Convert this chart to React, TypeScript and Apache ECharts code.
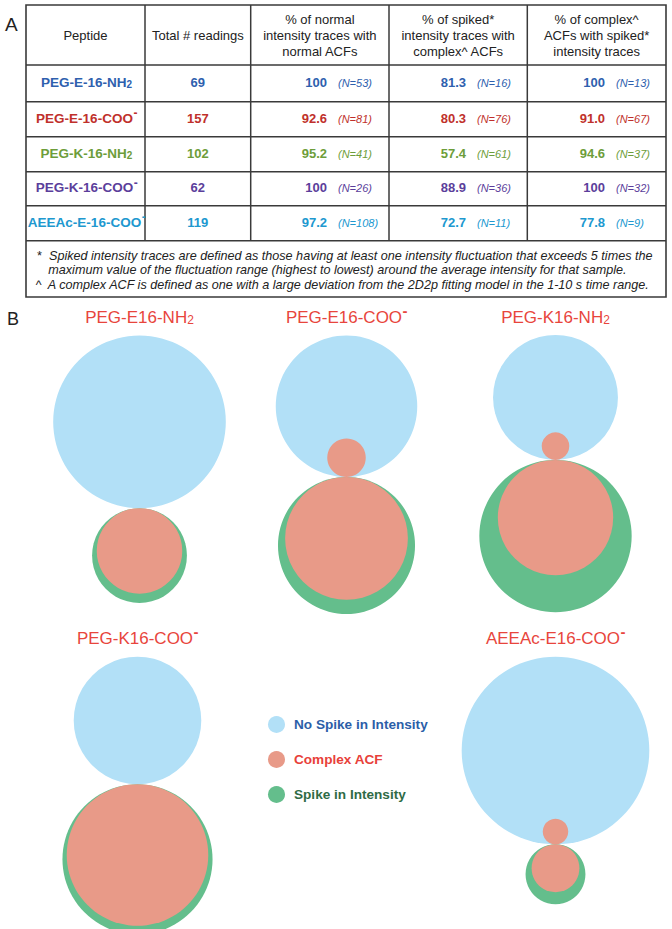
import React, { useEffect, useRef } from "react";
import * as echarts from "echarts";

// ---------- data ----------
const peptides = ["PEG-E-16-NH2", "PEG-E-16-COO-", "PEG-K-16-NH2", "PEG-K-16-COO-", "AEEAc-E-16-COO-"];
const vennTitles = ["PEG-E16-NH2", "PEG-E16-COO-", "PEG-K16-NH2", "PEG-K16-COO-", "AEEAc-E16-COO-"];
const totalReadings = [69, 157, 102, 62, 119];
const normalPct = [100, 92.6, 95.2, 100, 97.2];
const normalN = [53, 81, 41, 26, 108];
const spikedPct = [81.3, 80.3, 57.4, 88.9, 72.7];
const spikedN = [16, 76, 61, 36, 11];
const complexPct = [100, 91.0, 94.6, 100, 77.8];
const complexN = [13, 67, 37, 32, 9];
const headers = [
  "Peptide",
  "Total # readings",
  "% of normal\nintensity traces with\nnormal ACFs",
  "% of spiked*\nintensity traces with\ncomplex^ ACFs",
  "% of complex^\nACFs with spiked*\nintensity traces",
];
const footMarks = ["*", "", "^"];
const footnotes = [
  "Spiked intensity traces are defined as those having at least one intensity fluctuation that exceeds 5 times the",
  "maximum value of the fluctuation range (highest to lowest) around the average intensity for that sample.",
  "A complex ACF is defined as one with a large deviation from the 2D2p fitting model in the 1-10 s time range.",
];
const legendNames = ["No Spike in Intensity", "Complex ACF", "Spike in Intensity"];

// ---------- styling / layout ----------
const FONT = '"Liberation Sans", Arial, Helvetica, sans-serif';
const rowColors = ["#2E60AE", "#C0302B", "#6D9D3A", "#5B3E9B", "#2098CF"];
const BLUE = "#B2E0F7";
const PINK = "#E89A88";
const GREEN = "#64BE8C";
const TITLE_RED = "#E8453C";
const LEGEND_TEXT = ["#2B5EA8", "#E8413A", "#2F6B45"];
const LINE = "#3a3a3a";

const colX = [26, 145, 250.7, 389, 527.3, 666];
const rowY = [5, 65, 101.7, 136.7, 171.7, 205.7, 240.7];
const tableBottom = 297;
const valRight = [327, 466, 605];
const nLeft = [338, 477, 616];
const markX = [36.5, 0, 35.5];
const footX = [49, 48.3, 47.8];
const footY = [255.5, 270, 284.5];

const vennX = [139.5, 346.5, 555.5, 137.5, 555.5];
const vennTop = [335.5, 335.5, 335, 656.7, 656.7];
const titleY = [317, 317, 317, 638, 638];
const AREA = 9700; // pixel area budget per diagram

let _ctx: CanvasRenderingContext2D | null = null;
function measure(text: string, font: string) {
  if (!_ctx) _ctx = document.createElement("canvas").getContext("2d");
  if (!_ctx) return text.length * 7;
  _ctx.font = font;
  return _ctx.measureText(text).width;
}

const fmtPct = (v: number) => (v === 100 ? "100" : v.toFixed(1));

function txt(x: number, y: number, text: string, extra: any, align = "left") {
  return {
    type: "text",
    silent: true,
    style: {
      x, y, text, fontFamily: FONT,
      align, textAlign: align, verticalAlign: "middle", textVerticalAlign: "middle",
      ...extra,
    },
  };
}

// name with chemical subscript ("NH2") or superscript charge ("COO-")
function nameEls(name: string, cx: number, y: number, fs: number, subFs: number, supFs: number, weight: string, color: string) {
  const els: any[] = [];
  let main = name;
  let kind = "";
  if (name.endsWith("NH2")) { main = name.slice(0, -1); kind = "sub"; }
  else if (name.endsWith("-")) { main = name.slice(0, -1); kind = "sup"; }
  const wMain = measure(main, `${weight} ${fs}px ${FONT}`);
  const wSuf = kind === "sub" ? measure("2", `${weight} ${subFs}px ${FONT}`) : kind === "sup" ? measure("-", `bold ${supFs}px ${FONT}`) : 0;
  const left = cx - (wMain + wSuf) / 2;
  els.push(txt(left, y, main, { fontSize: fs, fontWeight: weight, fill: color }));
  if (kind === "sub") {
    els.push(txt(left + wMain, y + 0.35 * (fs - subFs) + 1, "2", { fontSize: subFs, fontWeight: weight, fill: color }));
  } else if (kind === "sup") {
    els.push(txt(left + wMain + 0.5, y - 0.37 * fs, "-", { fontSize: supFs, fontWeight: "bold", fill: color }));
  }
  return els;
}

function buildGraphic() {
  const els: any[] = [];
  // panel labels
  els.push(txt(5, 24, "A", { fontSize: 19, fill: "#222" }));
  els.push(txt(7, 319, "B", { fontSize: 18, fill: "#222" }));
  // table frame
  els.push({
    type: "rect",
    silent: true,
    shape: { x: colX[0], y: rowY[0], width: colX[5] - colX[0], height: tableBottom - rowY[0] },
    style: { fill: "none", stroke: LINE, lineWidth: 1.6 },
  });
  for (let i = 1; i < rowY.length; i++) {
    els.push({ type: "line", silent: true, shape: { x1: colX[0], y1: rowY[i], x2: colX[5], y2: rowY[i] }, style: { stroke: LINE, lineWidth: 1.5 } });
  }
  for (let j = 1; j < colX.length - 1; j++) {
    els.push({ type: "line", silent: true, shape: { x1: colX[j], y1: rowY[0], x2: colX[j], y2: rowY[rowY.length - 1] }, style: { stroke: LINE, lineWidth: 1.5 } });
  }
  // headers
  headers.forEach((h, j) => {
    const cx = (colX[j] + colX[j + 1]) / 2;
    els.push(txt(cx, (rowY[0] + rowY[1]) / 2 + 0.5, h, { fontSize: 13, fill: "#222", lineHeight: 16.4 }, "center"));
  });
  // rows
  peptides.forEach((p, i) => {
    const color = rowColors[i];
    const y = (rowY[i + 1] + rowY[i + 2]) / 2 - 1;
    els.push(...nameEls(p, (colX[0] + colX[1]) / 2 + 1, y, 13.5, 10, 12, "bold", color));
    els.push(txt((colX[1] + colX[2]) / 2, y, String(totalReadings[i]), { fontSize: 13, fontWeight: "bold", fill: color }, "center"));
    const pcts = [normalPct[i], spikedPct[i], complexPct[i]];
    const ns = [normalN[i], spikedN[i], complexN[i]];
    for (let c = 0; c < 3; c++) {
      els.push(txt(valRight[c], y, fmtPct(pcts[c]), { fontSize: 13, fontWeight: "bold", fill: color }, "right"));
      els.push(txt(nLeft[c], y + 0.5, `(N=${ns[c]})`, { fontSize: 11, fontStyle: "italic", fill: color }));
    }
  });
  // footnotes
  footnotes.forEach((f, i) => {
    if (footMarks[i]) els.push(txt(markX[i], footY[i], footMarks[i], { fontSize: 12.6, fontStyle: "italic", fill: "#222" }));
    els.push(txt(footX[i], footY[i], f, { fontSize: 12.6, fontStyle: "italic", fill: "#222" }));
  });
  // venn titles
  vennTitles.forEach((t, i) => {
    els.push(...nameEls(t, vennX[i], titleY[i], 17, 12, 15, "normal", TITLE_RED));
  });
  return els;
}

function buildVenn() {
  const blue: number[][] = [];
  const green: number[][] = [];
  const pink: number[][] = [];
  for (let i = 0; i < peptides.length; i++) {
    const k2 = AREA / totalReadings[i];
    const x = vennX[i];
    const top = vennTop[i];
    const rB = Math.sqrt(k2 * normalN[i]);
    const rG = Math.sqrt(k2 * spikedN[i]);
    const cS = Math.round((complexN[i] * complexPct[i]) / 100);
    const cN = complexN[i] - cS;
    const rP = Math.sqrt(k2 * cS);
    const tangent = top + 2 * rB;
    blue.push([x, top + rB, rB]);
    green.push([x, tangent + rG, rG]);
    pink.push([x, tangent + rP, rP]);
    if (cN > 0) {
      const rS = Math.sqrt(k2 * cN);
      pink.push([x, tangent - rS, rS]);
    }
  }
  return { blue, green, pink };
}

export default function App() {
  const ref = useRef<HTMLDivElement>(null);
  useEffect(() => {
    if (!ref.current) return;
    const chart = echarts.init(ref.current, undefined, { renderer: "svg" });
    const { blue, green, pink } = buildVenn();
    const sz = (v: number[]) => v[2] * 2;
    chart.setOption({
      animation: false,
      backgroundColor: "#ffffff",
      grid: { left: 0, top: 0, right: 0, bottom: 0, containLabel: false },
      xAxis: { type: "value", min: 0, max: 672, show: false },
      yAxis: { type: "value", min: 0, max: 929, inverse: true, show: false },
      legend: {
        orient: "vertical",
        left: 268,
        top: 716,
        padding: 0,
        itemWidth: 17,
        itemHeight: 17,
        itemGap: 18,
        selectedMode: false,
        icon: "circle",
        textStyle: { fontSize: 13.6, fontWeight: "bold", fontFamily: FONT, padding: [0, 0, 0, 4] },
        data: legendNames.map((n, i) => ({ name: n, textStyle: { color: LEGEND_TEXT[i] } })),
      },
      series: [
        { name: legendNames[0], type: "scatter", data: blue, symbolSize: sz, itemStyle: { color: BLUE, opacity: 1 }, silent: true, clip: false },
        { name: legendNames[2], type: "scatter", data: green, symbolSize: sz, itemStyle: { color: GREEN, opacity: 1 }, silent: true, clip: false },
        { name: legendNames[1], type: "scatter", data: pink, symbolSize: sz, itemStyle: { color: PINK, opacity: 1 }, silent: true, clip: false },
      ],
      graphic: buildGraphic(),
    });
    return () => chart.dispose();
  }, []);
  return (
    <div
      ref={ref}
      style={{ position: "absolute", left: 0, top: 0, width: 672, height: 929, background: "#fff" }}
    />
  );
}
